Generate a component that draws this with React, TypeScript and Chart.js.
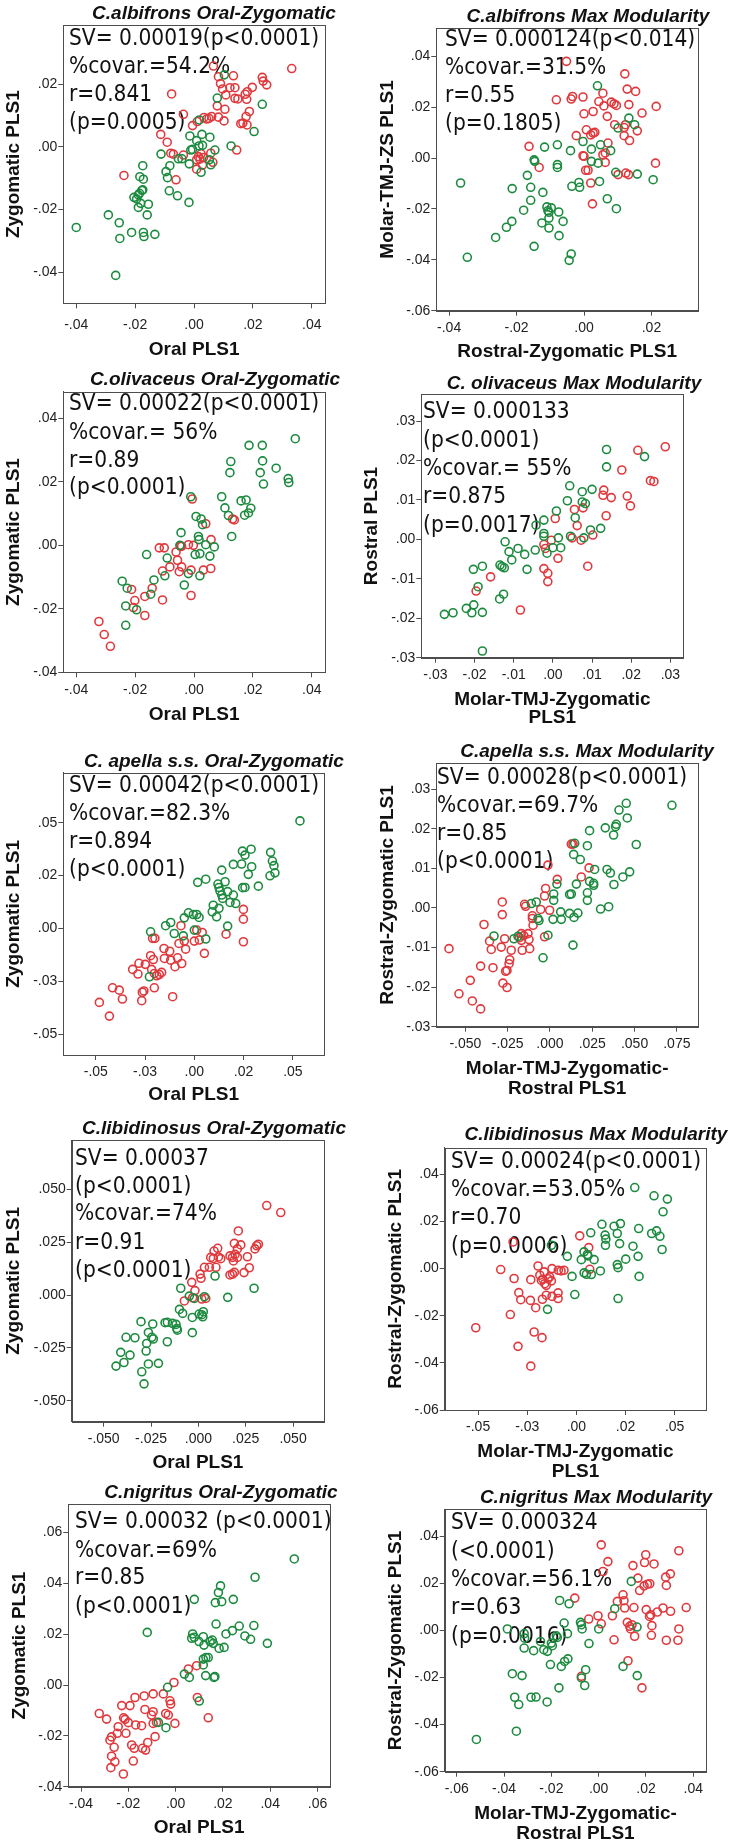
import React, { useEffect, useRef } from 'react';
import { Chart, registerables } from 'chart.js';

Chart.register(...registerables);

type Pt = [number, number];

// ---------- data: [x, y] scores ----------
const albifronsOZRed: Pt[] = [[-0.0238,-0.0091],[-0.0076,0.0169],[-0.0036,0.0104],[-0.0113,0.0040],[-0.0091,0.0015],[-0.0079,-0.0020],[-0.0070,-0.0023],[-0.0036,-0.0026],[-0.0061,-0.0105],[-0.0005,0.0068],[0.0011,0.0081],[0.0034,0.0094],[0.0043,0.0089],[0.0051,0.0091],[0.0060,0.0097],[0.0009,-0.0041],[0.0015,-0.0031],[0.0020,-0.0039],[0.0024,-0.0022],[0.0009,-0.0071],[0.0057,-0.0020],[0.0032,-0.0034],[0.0066,0.0258],[0.0083,0.0224],[0.0090,0.0202],[0.0097,0.0185],[0.0122,0.0189],[0.0134,0.0227],[0.0108,0.0166],[0.0079,0.0131],[0.0105,0.0120],[0.0083,0.0095],[0.0102,0.0083],[0.0139,0.0189],[0.0139,0.0155],[0.0149,0.0153],[0.0145,-0.0010],[0.0174,0.0168],[0.0181,0.0176],[0.0179,0.0152],[0.0198,0.0190],[0.0188,0.0113],[0.0177,0.0097],[0.0159,0.0074],[0.0166,0.0076],[0.0180,0.0070],[0.0232,0.0222],[0.0235,0.0210],[0.0247,0.0198],[0.0332,0.0250],[0.0064,-0.0049],[0.0029,-0.0058]];
const albifronsOZGreen: Pt[] = [[-0.0400,-0.0257],[-0.0266,-0.0410],[-0.0291,-0.0217],[-0.0254,-0.0242],[-0.0252,-0.0292],[-0.0212,-0.0273],[-0.0204,-0.0161],[-0.0195,-0.0166],[-0.0189,-0.0153],[-0.0185,-0.0148],[-0.0177,-0.0139],[-0.0174,-0.0137],[-0.0189,-0.0193],[-0.0181,-0.0180],[-0.0184,-0.0095],[-0.0172,-0.0103],[-0.0174,-0.0060],[-0.0172,-0.0273],[-0.0170,-0.0286],[-0.0155,-0.0183],[-0.0159,-0.0217],[-0.0133,-0.0279],[-0.0112,-0.0023],[-0.0095,-0.0079],[-0.0082,-0.0060],[-0.0090,-0.0098],[-0.0084,-0.0140],[-0.0056,-0.0156],[-0.0053,-0.0038],[-0.0017,-0.0177],[-0.0016,-0.0054],[-0.0014,0.0035],[-0.0011,-0.0010],[-0.0005,-0.0008],[0.0009,0.0020],[0.0017,0.0003],[0.0024,-0.0081],[0.0027,0.0040],[0.0029,0.0005],[0.0054,0.0031],[0.0057,-0.0057],[0.0052,-0.0041],[0.0071,-0.0010],[0.0079,0.0156],[0.0103,0.0230],[0.0126,0.0003],[0.0204,0.0049],[0.0232,0.0136],[0.0018,0.0086],[-0.0041,-0.0038]];

const albifronsMaxRed: Pt[] = [[-0.0052,0.0380],[-0.0082,0.0229],[-0.0038,0.0232],[-0.0034,0.0242],[-0.0003,0.0240],[-0.0163,0.0046],[-0.0133,-0.0037],[-0.0023,0.0088],[0.0000,0.0174],[0.0007,0.0111],[-0.0003,0.0009],[0.0000,0.0007],[0.0005,-0.0048],[0.0012,-0.0048],[0.0020,-0.0098],[0.0025,-0.0180],[0.0020,0.0091],[0.0027,0.0098],[0.0032,0.0101],[0.0027,0.0183],[0.0044,0.0222],[0.0056,0.0255],[0.0059,0.0205],[0.0056,0.0013],[0.0063,0.0020],[0.0063,-0.0017],[0.0069,0.0164],[0.0071,0.0059],[0.0081,0.0220],[0.0089,0.0213],[0.0096,0.0207],[0.0091,0.0131],[0.0101,-0.0065],[0.0119,0.0120],[0.0123,0.0131],[0.0119,0.0088],[0.0121,0.0331],[0.0128,0.0271],[0.0133,0.0210],[0.0135,0.0069],[0.0124,-0.0059],[0.0132,-0.0065],[0.0153,0.0262],[0.0158,0.0107],[0.0172,0.0177],[0.0214,0.0203],[0.0212,-0.0020]];
const albifronsMaxGreen: Pt[] = [[-0.0366,-0.0098],[-0.0346,-0.0390],[-0.0262,-0.0312],[-0.0230,-0.0272],[-0.0214,-0.0249],[-0.0213,-0.0120],[-0.0179,-0.0205],[-0.0168,-0.0068],[-0.0158,-0.0115],[-0.0158,-0.0166],[-0.0148,-0.0007],[-0.0146,-0.0013],[-0.0148,-0.0347],[-0.0122,-0.0135],[-0.0125,-0.0255],[-0.0117,0.0043],[-0.0110,-0.0192],[-0.0107,-0.0207],[-0.0097,-0.0196],[-0.0104,-0.0213],[-0.0104,-0.0236],[-0.0104,-0.0275],[-0.0079,0.0052],[-0.0079,-0.0026],[-0.0079,-0.0037],[-0.0075,-0.0212],[-0.0074,-0.0305],[-0.0062,-0.0249],[-0.0040,0.0029],[-0.0036,-0.0111],[-0.0038,-0.0377],[-0.0044,-0.0402],[-0.0015,-0.0096],[-0.0013,-0.0115],[-0.0003,0.0065],[0.0022,0.0035],[0.0022,-0.0013],[0.0040,0.0284],[0.0042,-0.0020],[0.0046,-0.0092],[0.0049,0.0052],[0.0069,-0.0160],[0.0079,0.0029],[0.0096,-0.0199],[0.0094,-0.0056],[0.0101,0.0118],[0.0133,0.0157],[0.0150,0.0131],[0.0158,-0.0063],[0.0205,-0.0085]];

const olivaceusOZRed: Pt[] = [[-0.0323,-0.0240],[-0.0305,-0.0281],[-0.0284,-0.0318],[-0.0212,-0.0139],[-0.0201,-0.0174],[-0.0206,-0.0196],[-0.0167,-0.0221],[-0.0167,-0.0161],[-0.0142,-0.0135],[-0.0107,-0.0172],[-0.0118,-0.0008],[-0.0101,-0.0008],[-0.0107,-0.0081],[-0.0082,-0.0068],[-0.0061,-0.0021],[-0.0056,-0.0047],[-0.0042,-0.0068],[-0.0042,-0.0003],[-0.0019,0.0002],[-0.0002,0.0000],[-0.0010,-0.0078],[-0.0010,-0.0158],[-0.0006,0.0146],[0.0040,0.0068],[0.0058,0.0018],[0.0032,-0.0078],[0.0057,-0.0073],[0.0131,0.0083],[0.0137,0.0080],[-0.0050,-0.0083],[-0.0046,-0.0003]];
const olivaceusOZGreen: Pt[] = [[0.0344,0.0336],[0.0187,0.0315],[0.0232,0.0315],[0.0233,0.0266],[0.0125,0.0264],[0.0122,0.0229],[0.0225,0.0229],[0.0279,0.0243],[0.0236,0.0193],[0.0320,0.0210],[0.0322,0.0198],[0.0094,0.0153],[0.0105,0.0118],[0.0117,0.0094],[0.0160,0.0140],[0.0177,0.0143],[0.0172,0.0095],[0.0185,0.0102],[0.0193,0.0117],[0.0128,0.0028],[-0.0011,0.0153],[0.0007,0.0091],[0.0024,0.0083],[0.0029,0.0065],[-0.0044,0.0040],[0.0015,0.0028],[0.0017,0.0018],[0.0004,-0.0029],[0.0020,-0.0026],[0.0040,0.0002],[0.0054,-0.0034],[0.0069,-0.0005],[0.0020,-0.0096],[-0.0019,-0.0089],[-0.0033,-0.0125],[-0.0048,0.0000],[-0.0091,-0.0040],[-0.0099,-0.0096],[-0.0161,-0.0029],[-0.0136,-0.0109],[-0.0147,-0.0154],[-0.0244,-0.0113],[-0.0227,-0.0135],[-0.0232,-0.0191],[-0.0195,-0.0203],[-0.0232,-0.0252]];

const olivaceusMaxRed: Pt[] = [[-0.0196,-0.0131],[-0.0159,-0.0095],[-0.0083,-0.0179],[-0.0023,-0.0074],[-0.0013,-0.0086],[-0.0013,-0.0107],[-0.0023,-0.0013],[-0.0019,-0.0023],[-0.0004,-0.0002],[0.0006,0.0053],[0.0013,-0.0048],[0.0049,0.0004],[0.0055,0.0076],[0.0062,0.0035],[0.0072,-0.0002],[0.0077,0.0080],[0.0089,-0.0068],[0.0102,0.0011],[0.0130,0.0125],[0.0128,0.0112],[0.0149,0.0106],[0.0136,0.0060],[0.0176,0.0176],[0.0190,0.0110],[0.0198,0.0085],[0.0217,0.0226],[0.0249,0.0149],[0.0258,0.0147],[0.0287,0.0235]];
const olivaceusMaxGreen: Pt[] = [[-0.0277,-0.0190],[-0.0255,-0.0186],[-0.0221,-0.0175],[-0.0207,-0.0186],[-0.0202,-0.0166],[-0.0203,-0.0076],[-0.0191,-0.0120],[-0.0180,-0.0068],[-0.0180,-0.0185],[-0.0180,-0.0283],[-0.0136,-0.0151],[-0.0135,-0.0065],[-0.0130,-0.0069],[-0.0124,-0.0072],[-0.0126,-0.0139],[-0.0122,-0.0006],[-0.0112,-0.0031],[-0.0105,-0.0052],[-0.0089,-0.0023],[-0.0072,-0.0038],[-0.0066,-0.0076],[-0.0045,-0.0027],[-0.0043,0.0036],[-0.0023,0.0049],[-0.0023,0.0015],[-0.0023,0.0008],[-0.0015,-0.0035],[0.0000,-0.0021],[0.0009,0.0072],[0.0014,0.0004],[0.0020,-0.0021],[0.0037,0.0098],[0.0043,0.0136],[0.0045,0.0008],[0.0057,0.0055],[0.0075,0.0121],[0.0075,0.0095],[0.0083,0.0091],[0.0079,0.0004],[0.0096,0.0024],[0.0100,0.0127],[0.0122,0.0028],[0.0137,0.0228],[0.0137,0.0184],[0.0234,0.0210]];

const apellaOZRed: Pt[] = [[-0.0482,-0.0350],[-0.0431,-0.0415],[-0.0415,-0.0281],[-0.0381,-0.0292],[-0.0365,-0.0334],[-0.0313,-0.0194],[-0.0286,-0.0216],[-0.0281,-0.0165],[-0.0249,-0.0170],[-0.0264,-0.0302],[-0.0256,-0.0296],[-0.0267,-0.0342],[-0.0222,-0.0129],[-0.0208,-0.0147],[-0.0217,-0.0194],[-0.0203,-0.0213],[-0.0191,-0.0224],[-0.0178,-0.0218],[-0.0166,-0.0208],[-0.0203,-0.0281],[-0.0212,-0.0047],[-0.0200,-0.0047],[-0.0154,-0.0095],[-0.0152,-0.0142],[-0.0125,-0.0108],[-0.0120,-0.0150],[-0.0110,-0.0323],[-0.0098,-0.0181],[-0.0085,-0.0139],[-0.0064,-0.0166],[-0.0078,-0.0071],[-0.0051,-0.0060],[-0.0044,-0.0098],[-0.0068,0.0013],[0.0000,-0.0060],[0.0025,-0.0055],[0.0040,-0.0019],[0.0012,-0.0008],[0.0051,-0.0118],[0.0161,-0.0027],[0.0249,0.0090],[0.0249,0.0044],[0.0249,-0.0063]];
const apellaOZGreen: Pt[] = [[0.0536,0.0509],[0.0244,0.0366],[0.0257,0.0347],[0.0288,0.0375],[0.0387,0.0360],[0.0396,0.0319],[0.0404,0.0297],[0.0409,0.0263],[0.0384,0.0249],[0.0198,0.0303],[0.0240,0.0305],[0.0291,0.0292],[0.0274,0.0256],[0.0139,0.0276],[0.0017,0.0218],[0.0058,0.0233],[0.0120,0.0210],[0.0125,0.0194],[0.0156,0.0221],[0.0130,0.0177],[0.0139,0.0158],[0.0169,0.0174],[0.0198,0.0158],[0.0245,0.0193],[0.0257,0.0194],[0.0325,0.0200],[0.0181,0.0123],[0.0210,0.0118],[0.0144,0.0142],[0.0096,0.0110],[0.0125,0.0095],[0.0091,0.0079],[0.0113,0.0055],[0.0169,0.0011],[-0.0030,0.0074],[-0.0051,0.0050],[-0.0005,0.0066],[0.0012,0.0066],[0.0024,0.0052],[-0.0120,0.0028],[-0.0146,0.0013],[-0.0102,-0.0024],[-0.0056,-0.0035],[0.0000,-0.0008],[0.0058,-0.0050],[-0.0222,-0.0016],[-0.0228,-0.0229]];

const apellaMaxRed: Pt[] = [[-0.0597,-0.0103],[-0.0538,-0.0217],[-0.0459,-0.0235],[-0.0471,-0.0183],[-0.0410,-0.0147],[-0.0410,-0.0255],[-0.0390,-0.0042],[-0.0357,-0.0084],[-0.0347,-0.0105],[-0.0337,-0.0151],[-0.0282,0.0015],[-0.0282,-0.0017],[-0.0268,-0.0078],[-0.0288,-0.0099],[-0.0278,-0.0190],[-0.0254,-0.0201],[-0.0254,-0.0158],[-0.0262,-0.0160],[-0.0238,-0.0131],[-0.0242,-0.0141],[-0.0229,-0.0107],[-0.0169,-0.0082],[-0.0169,-0.0065],[-0.0164,-0.0107],[-0.0150,0.0009],[-0.0144,0.0004],[-0.0130,-0.0065],[-0.0124,-0.0080],[-0.0120,-0.0103],[-0.0104,-0.0020],[-0.0100,-0.0044],[-0.0104,-0.0027],[-0.0055,-0.0004],[-0.0032,0.0030],[-0.0026,0.0049],[-0.0012,0.0108],[-0.0002,-0.0006],[-0.0032,-0.0073],[0.0043,0.0072],[0.0126,0.0161],[0.0136,0.0161],[0.0185,0.0078],[0.0231,0.0101],[-0.0180,-0.0075],[-0.0155,-0.0070]];
const apellaMaxGreen: Pt[] = [[0.0721,0.0259],[0.0451,0.0264],[0.0408,0.0247],[0.0457,0.0227],[0.0392,0.0211],[0.0388,0.0205],[0.0376,0.0184],[0.0327,0.0202],[0.0234,0.0195],[0.0221,0.0157],[0.0510,0.0160],[0.0146,0.0163],[0.0140,0.0135],[0.0179,0.0122],[0.0337,0.0097],[0.0357,0.0088],[0.0471,0.0091],[0.0431,0.0078],[0.0378,0.0059],[0.0264,0.0097],[0.0234,0.0067],[0.0258,0.0062],[0.0258,0.0057],[0.0156,0.0060],[0.0041,0.0060],[0.0221,0.0038],[0.0221,0.0019],[0.0116,0.0034],[0.0126,0.0035],[0.0063,-0.0010],[0.0018,-0.0029],[0.0067,-0.0029],[0.0116,-0.0014],[0.0142,-0.0024],[0.0165,-0.0013],[0.0299,-0.0003],[0.0347,0.0003],[0.0022,0.0019],[0.0022,0.0035],[-0.0012,-0.0069],[-0.0041,-0.0126],[0.0136,-0.0094],[-0.0110,0.0011],[-0.0081,0.0015],[-0.0071,-0.0027],[-0.0065,-0.0032],[-0.0189,-0.0072],[-0.0213,-0.0078],[-0.0331,-0.0071]];

const libidinosusOZRed: Pt[] = [[0.0361,0.0423],[0.0435,0.0390],[0.0211,0.0303],[0.0190,0.0244],[0.0224,0.0237],[0.0206,0.0218],[0.0194,0.0192],[0.0180,0.0178],[0.0206,0.0178],[0.0185,0.0161],[0.0167,0.0185],[0.0259,0.0181],[0.0299,0.0218],[0.0308,0.0233],[0.0317,0.0240],[0.0269,0.0129],[0.0241,0.0106],[0.0167,0.0095],[0.0180,0.0099],[0.0190,0.0107],[0.0102,0.0221],[0.0083,0.0208],[0.0065,0.0178],[0.0079,0.0173],[0.0106,0.0180],[0.0118,0.0172],[0.0093,0.0131],[0.0058,0.0131],[0.0032,0.0131],[0.0009,0.0099],[0.0014,0.0079],[-0.0035,0.0060],[-0.0018,0.0021],[-0.0030,-0.0013],[-0.0074,-0.0028],[0.0018,-0.0019],[0.0039,-0.0016]];
const libidinosusOZGreen: Pt[] = [[0.0088,0.0090],[0.0294,0.0032],[0.0155,-0.0011],[-0.0093,0.0032],[-0.0048,-0.0005],[-0.0021,-0.0016],[0.0032,-0.0008],[-0.0100,-0.0068],[-0.0083,-0.0087],[-0.0032,-0.0106],[0.0004,-0.0090],[0.0018,-0.0093],[0.0026,-0.0079],[0.0023,-0.0103],[-0.0032,-0.0178],[-0.0118,-0.0139],[-0.0114,-0.0158],[-0.0111,-0.0166],[-0.0137,-0.0134],[-0.0164,-0.0129],[-0.0176,-0.0131],[-0.0164,-0.0221],[-0.0241,-0.0137],[-0.0303,-0.0126],[-0.0264,-0.0177],[-0.0246,-0.0200],[-0.0238,-0.0208],[-0.0273,-0.0229],[-0.0276,-0.0265],[-0.0382,-0.0200],[-0.0335,-0.0202],[-0.0410,-0.0271],[-0.0361,-0.0284],[-0.0393,-0.0319],[-0.0435,-0.0336],[-0.0264,-0.0326],[-0.0211,-0.0323],[-0.0299,-0.0363],[-0.0287,-0.0420]];

const libidinosusMaxRed: Pt[] = [[-0.0322,0.0113],[0.0017,0.0139],[0.0063,0.0089],[0.0068,-0.0003],[-0.0385,-0.0004],[-0.0317,-0.0042],[-0.0232,-0.0047],[-0.0195,0.0011],[-0.0186,-0.0028],[-0.0178,-0.0050],[-0.0164,-0.0014],[-0.0161,-0.0064],[-0.0153,-0.0071],[-0.0144,-0.0043],[-0.0136,-0.0035],[-0.0127,-0.0052],[-0.0124,0.0000],[-0.0092,-0.0007],[-0.0078,-0.0010],[-0.0063,-0.0007],[-0.0293,-0.0102],[-0.0283,-0.0132],[-0.0234,-0.0135],[-0.0207,-0.0166],[-0.0173,-0.0130],[-0.0153,-0.0113],[-0.0124,-0.0118],[-0.0093,-0.0103],[-0.0093,-0.0127],[-0.0336,-0.0195],[-0.0512,-0.0251],[-0.0215,-0.0269],[-0.0175,-0.0293],[-0.0297,-0.0330],[-0.0232,-0.0414],[-0.0170,-0.0045]];
const libidinosusMaxGreen: Pt[] = [[0.0297,0.0344],[0.0395,0.0309],[0.0463,0.0295],[0.0441,0.0241],[0.0130,0.0188],[0.0192,0.0180],[0.0224,0.0191],[0.0317,0.0170],[0.0383,0.0149],[0.0408,0.0160],[0.0425,0.0137],[0.0073,0.0152],[0.0146,0.0142],[0.0150,0.0125],[0.0148,0.0099],[0.0208,0.0149],[0.0220,0.0106],[0.0288,0.0095],[0.0436,0.0081],[-0.0127,0.0099],[-0.0046,0.0052],[0.0039,0.0071],[0.0056,0.0060],[0.0059,0.0054],[0.0025,0.0038],[0.0090,0.0038],[0.0251,0.0040],[0.0314,0.0052],[0.0208,0.0017],[0.0212,0.0004],[0.0122,-0.0010],[0.0039,-0.0018],[0.0051,-0.0024],[0.0076,-0.0025],[-0.0022,-0.0033],[0.0319,-0.0033],[-0.0008,-0.0110],[0.0212,-0.0127],[-0.0147,-0.0173]];

const nigritusOZRed: Pt[] = [[0.0054,0.0063],[0.0089,0.0076],[-0.0007,0.0010],[-0.0052,-0.0035],[-0.0095,-0.0035],[-0.0133,-0.0043],[-0.0172,-0.0049],[-0.0193,-0.0081],[-0.0228,-0.0081],[-0.0024,-0.0062],[-0.0021,-0.0075],[-0.0042,-0.0112],[-0.0031,-0.0118],[-0.0003,-0.0151],[-0.0130,-0.0096],[-0.0095,-0.0105],[-0.0102,-0.0118],[-0.0095,-0.0151],[-0.0081,-0.0147],[-0.0323,-0.0112],[-0.0292,-0.0134],[-0.0220,-0.0129],[-0.0214,-0.0135],[-0.0169,-0.0157],[-0.0144,-0.0160],[-0.0200,-0.0148],[-0.0243,-0.0164],[-0.0247,-0.0190],[-0.0210,-0.0190],[-0.0271,-0.0204],[-0.0278,-0.0217],[-0.0260,-0.0245],[-0.0271,-0.0280],[-0.0257,-0.0302],[-0.0274,-0.0325],[-0.0186,-0.0236],[-0.0175,-0.0249],[-0.0140,-0.0249],[-0.0127,-0.0256],[-0.0118,-0.0226],[-0.0087,-0.0203],[-0.0179,-0.0299],[-0.0221,-0.0350],[0.0092,-0.0049],[0.0138,-0.0129]];
const nigritusOZGreen: Pt[] = [[0.0502,0.0496],[0.0336,0.0424],[0.0190,0.0390],[0.0181,0.0364],[0.0168,0.0324],[0.0195,0.0328],[0.0244,0.0337],[0.0079,0.0337],[-0.0120,0.0207],[0.0171,0.0240],[0.0269,0.0232],[0.0331,0.0234],[0.0213,0.0201],[0.0240,0.0214],[0.0293,0.0193],[0.0317,0.0180],[0.0388,0.0164],[0.0072,0.0201],[0.0068,0.0184],[0.0079,0.0188],[0.0099,0.0171],[0.0117,0.0190],[0.0120,0.0157],[0.0146,0.0171],[0.0155,0.0177],[0.0159,0.0164],[0.0184,0.0144],[0.0205,0.0148],[0.0117,0.0102],[0.0128,0.0108],[0.0138,0.0108],[0.0117,0.0079],[0.0127,0.0037],[0.0162,0.0030],[0.0166,0.0033],[0.0037,0.0043],[0.0058,0.0030],[-0.0034,-0.0009],[0.0100,-0.0063],[-0.0041,-0.0168],[-0.0073,-0.0147]];

const nigritusMaxRed: Pt[] = [[0.0011,0.0363],[0.0039,0.0292],[0.0018,0.0250],[-0.0101,0.0137],[-0.0042,0.0048],[-0.0003,0.0062],[0.0011,0.0028],[0.0058,0.0062],[0.0065,-0.0040],[0.0079,0.0123],[0.0103,0.0151],[0.0107,0.0126],[0.0110,0.0095],[0.0121,0.0034],[0.0131,0.0017],[0.0135,0.0006],[0.0141,0.0024],[0.0152,-0.0025],[0.0149,0.0097],[0.0145,0.0275],[0.0166,0.0222],[0.0173,0.0169],[0.0192,0.0189],[0.0206,0.0196],[0.0216,0.0198],[0.0199,0.0321],[0.0194,0.0288],[0.0234,0.0282],[0.0201,0.0088],[0.0215,0.0059],[0.0220,0.0066],[0.0225,0.0020],[0.0223,-0.0021],[0.0248,0.0078],[0.0272,0.0095],[0.0283,0.0226],[0.0286,0.0191],[0.0303,0.0240],[0.0304,0.0081],[0.0286,-0.0042],[0.0339,0.0338],[0.0339,0.0006],[0.0335,-0.0042],[0.0370,0.0097],[0.0124,-0.0129],[0.0183,-0.0244],[-0.0073,-0.0195]];
const nigritusMaxGreen: Pt[] = [[0.0138,0.0208],[-0.0165,0.0127],[-0.0125,0.0113],[0.0068,0.0092],[-0.0386,0.0006],[-0.0315,-0.0014],[-0.0313,-0.0033],[-0.0315,-0.0075],[-0.0275,-0.0086],[-0.0246,-0.0047],[-0.0232,-0.0082],[-0.0217,-0.0089],[-0.0196,-0.0065],[-0.0200,-0.0054],[-0.0175,-0.0030],[-0.0179,-0.0023],[-0.0146,0.0031],[-0.0132,-0.0014],[-0.0130,-0.0121],[-0.0144,-0.0132],[-0.0158,-0.0153],[-0.0204,-0.0145],[-0.0077,0.0034],[-0.0073,0.0024],[-0.0070,0.0006],[-0.0041,-0.0056],[0.0000,0.0006],[-0.0365,-0.0184],[-0.0324,-0.0192],[-0.0355,-0.0284],[-0.0338,-0.0315],[-0.0286,-0.0284],[-0.0265,-0.0283],[-0.0218,-0.0304],[-0.0168,-0.0244],[-0.0348,-0.0428],[-0.0517,-0.0463],[-0.0073,-0.0202],[-0.0059,-0.0234],[-0.0055,-0.0167],[0.0103,-0.0153],[0.0163,-0.0192],[0.0162,0.0014]];

// ---------- ticks ----------
const ticks04: number[] = [-0.04, -0.02, 0, 0.02, 0.04];
const labels04: string[] = ['-.04', '-.02', '.00', '.02', '.04'];
const ticks02y: number[] = [-0.04, -0.02, 0, 0.02];
const labels02y: string[] = ['-.04', '-.02', '.00', '.02'];
const ticks02x: number[] = [-0.04, -0.02, 0, 0.02];
const ticks06to04: number[] = [-0.06, -0.04, -0.02, 0, 0.02, 0.04];
const labels06to04: string[] = ['-.06', '-.04', '-.02', '.00', '.02', '.04'];
const ticks03: number[] = [-0.03, -0.02, -0.01, 0, 0.01, 0.02, 0.03];
const labels03: string[] = ['-.03', '-.02', '-.01', '.00', '.01', '.02', '.03'];
const ticks05q: number[] = [-0.05, -0.025, 0, 0.025, 0.05];
const labels05q2: string[] = ['-.05', '-.03', '.00', '.02', '.05'];
const labels05q3: string[] = ['-.050', '-.025', '.000', '.025', '.050'];
const ticks075: number[] = [-0.05, -0.025, 0, 0.025, 0.05, 0.075];
const labels075: string[] = ['-.050', '-.025', '.000', '.025', '.050', '.075'];
const ticks04to06: number[] = [-0.04, -0.02, 0, 0.02, 0.04, 0.06];
const labels04to06: string[] = ['-.04', '-.02', '.00', '.02', '.04', '.06'];

const RED = '#e0393d';
const GREEN = '#1d8b3f';

interface PanelData {
  title: string; xTitle: string[]; yTitle: string; note: string[];
  red: Pt[]; green: Pt[];
  xMin: number; xMax: number; xTicks: number[]; xLabels: string[];
  yMin: number; yMax: number; yTicks: number[]; yLabels: string[];
}

const PANELS: PanelData[] = [
  { title: 'C.albifrons Oral-Zygomatic', xTitle: ['Oral PLS1'], yTitle: 'Zygomatic PLS1',
    note: ['SV= 0.00019(p<0.0001)', '%covar.=54.2%', 'r=0.841', '(p=0.0005)'],
    red: albifronsOZRed, green: albifronsOZGreen,
    xMin: -0.0444, xMax: 0.0445, xTicks: ticks04, xLabels: labels04,
    yMin: -0.0499, yMax: 0.0389, yTicks: ticks02y, yLabels: labels02y },
  { title: 'C.albifrons Max Modularity', xTitle: ['Rostral-Zygomatic PLS1'], yTitle: 'Molar-TMJ-ZS PLS1',
    note: ['SV= 0.000124(p<0.014)', '%covar.=31.5%', 'r=0.55', '(p=0.1805)'],
    red: albifronsMaxRed, green: albifronsMaxGreen,
    xMin: -0.0438, xMax: 0.0338, xTicks: ticks02x, xLabels: labels02y,
    yMin: -0.06, yMax: 0.051, yTicks: ticks06to04, yLabels: labels06to04 },
  { title: 'C.olivaceus Oral-Zygomatic', xTitle: ['Oral PLS1'], yTitle: 'Zygomatic PLS1',
    note: ['SV= 0.00022(p<0.0001)', '%covar.= 56%', 'r=0.89', '(p<0.0001)'],
    red: olivaceusOZRed, green: olivaceusOZGreen,
    xMin: -0.0444, xMax: 0.0445, xTicks: ticks04, xLabels: labels04,
    yMin: -0.04, yMax: 0.0484, yTicks: ticks04, yLabels: labels04 },
  { title: 'C. olivaceus Max Modularity', xTitle: ['Molar-TMJ-Zygomatic', 'PLS1'], yTitle: 'Rostral PLS1',
    note: ['SV= 0.000133', '(p<0.0001)', '%covar.= 55%', 'r=0.875', '(p=0.0017)'],
    red: olivaceusMaxRed, green: olivaceusMaxGreen,
    xMin: -0.0336, xMax: 0.0333, xTicks: ticks03, xLabels: labels03,
    yMin: -0.03, yMax: 0.0368, yTicks: ticks03, yLabels: labels03 },
  { title: 'C. apella s.s. Oral-Zygomatic', xTitle: ['Oral PLS1'], yTitle: 'Zygomatic PLS1',
    note: ['SV= 0.00042(p<0.0001)', '%covar.=82.3%', 'r=0.894', '(p<0.0001)'],
    red: apellaOZRed, green: apellaOZGreen,
    xMin: -0.0665, xMax: 0.0658, xTicks: ticks05q, xLabels: labels05q2,
    yMin: -0.0599, yMax: 0.0737, yTicks: ticks05q, yLabels: labels05q2 },
  { title: 'C.apella s.s. Max Modularity', xTitle: ['Molar-TMJ-Zygomatic-', 'Rostral PLS1'], yTitle: 'Rostral-Zygomatic PLS1',
    note: ['SV= 0.00028(p<0.0001)', '%covar.=69.7%', 'r=0.85', '(p<0.0001)'],
    red: apellaMaxRed, green: apellaMaxGreen,
    xMin: -0.0672, xMax: 0.0875, xTicks: ticks075, xLabels: labels075,
    yMin: -0.03, yMax: 0.0365, yTicks: ticks03, yLabels: labels03 },
  { title: 'C.libidinosus Oral-Zygomatic', xTitle: ['Oral PLS1'], yTitle: 'Zygomatic PLS1',
    note: ['SV= 0.00037', '(p<0.0001)', '%covar.=74%', 'r=0.91', '(p<0.0001)'],
    red: libidinosusOZRed, green: libidinosusOZGreen,
    xMin: -0.0669, xMax: 0.0665, xTicks: ticks05q, xLabels: labels05q3,
    yMin: -0.0599, yMax: 0.0733, yTicks: ticks05q, yLabels: labels05q3 },
  { title: 'C.libidinosus Max Modularity', xTitle: ['Molar-TMJ-Zygomatic', 'PLS1'], yTitle: 'Rostral-Zygomatic PLS1',
    note: ['SV= 0.00024(p<0.0001)', '%covar.=53.05%', 'r=0.70', '(p=0.0006)'],
    red: libidinosusMaxRed, green: libidinosusMaxGreen,
    xMin: -0.067, xMax: 0.0661, xTicks: ticks05q, xLabels: labels05q2,
    yMin: -0.06, yMax: 0.0513, yTicks: ticks06to04, yLabels: labels06to04 },
  { title: 'C.nigritus Oral-Zygomatic', xTitle: ['Oral PLS1'], yTitle: 'Zygomatic PLS1',
    note: ['SV= 0.00032 (p<0.0001)', '%covar.=69%', 'r=0.85', '(p<0.0001)'],
    red: nigritusOZRed, green: nigritusOZGreen,
    xMin: -0.0454, xMax: 0.0653, xTicks: ticks04to06, xLabels: labels04to06,
    yMin: -0.04, yMax: 0.0711, yTicks: ticks04to06, yLabels: labels04to06 },
  { title: 'C.nigritus Max Modularity', xTitle: ['Molar-TMJ-Zygomatic-', 'Rostral PLS1'], yTitle: 'Rostral-Zygomatic PLS1',
    note: ['SV= 0.000324', '(<0.0001)', '%covar.=56.1%', 'r=0.63', '(p=0.0016)'],
    red: nigritusMaxRed, green: nigritusMaxGreen,
    xMin: -0.0651, xMax: 0.0455, xTicks: ticks06to04, xLabels: labels06to04,
    yMin: -0.06, yMax: 0.0514, yTicks: ticks06to04, yLabels: labels06to04 },
];

// ---------- layout (page pixels) ----------
interface PanelLayout {
  col: number; box: [number, number, number, number]; titleAt: [number, number];
  xTitleY: number[]; yTitleX: number; noteX: number; noteY: number[]; xPad: number;
}
const LAYOUT: PanelLayout[] = [
  { col: 0, box: [63.3, 25, 325, 303.3], titleAt: [214, 14], xTitleY: [350], yTitleX: 14, noteX: 69, noteY: [39, 67, 95, 123], xPad: 8 },
  { col: 1, box: [436.3, 28.3, 698, 310.7], titleAt: [588, 17], xTitleY: [352], yTitleX: 388, noteX: 445, noteY: [40, 68, 96, 124], xPad: 4 },
  { col: 0, box: [63.3, 391.7, 325, 672.3], titleAt: [215, 380], xTitleY: [715], yTitleX: 14, noteX: 69, noteY: [404, 433, 461, 488], xPad: 4 },
  { col: 1, box: [421.3, 394.3, 683.3, 657.7], titleAt: [574, 384], xTitleY: [700, 718], yTitleX: 372, noteX: 423, noteY: [412, 441, 469, 497, 526], xPad: 4 },
  { col: 0, box: [63.3, 772.7, 324, 1055], titleAt: [214, 762], xTitleY: [1095], yTitleX: 14, noteX: 69, noteY: [786, 814, 842, 870], xPad: 4 },
  { col: 1, box: [436.3, 763.3, 698, 1026.7], titleAt: [587, 752], xTitleY: [1069, 1089], yTitleX: 388, noteX: 437, noteY: [778, 806, 834, 862], xPad: 4 },
  { col: 0, box: [71.7, 1140, 324.3, 1421.7], titleAt: [214, 1129], xTitleY: [1463], yTitleX: 14, noteX: 75, noteY: [1159, 1187, 1214, 1243, 1271], xPad: 4 },
  { col: 1, box: [444.7, 1147.7, 706.3, 1410], titleAt: [596, 1135], xTitleY: [1452, 1472], yTitleX: 396, noteX: 451, noteY: [1162, 1190, 1218, 1247], xPad: 4 },
  { col: 0, box: [68.3, 1504.3, 330, 1786.7], titleAt: [221, 1493], xTitleY: [1828], yTitleX: 20, noteX: 75, noteY: [1522, 1551, 1578, 1607], xPad: 4 },
  { col: 1, box: [444.7, 1509.3, 706.3, 1771.7], titleAt: [596, 1498], xTitleY: [1814, 1834], yTitleX: 396, noteX: 451, noteY: [1523, 1552, 1580, 1608, 1637], xPad: 4 },
];

const AXIS_COLOR = '#4d4d4d';
const TICK_FONT = { family: '"Liberation Sans", Arial, sans-serif', size: 14 };

function makeScale(min: number, max: number, values: number[], labels: string[], isX: boolean, size: number, pad: number) {
  return {
    type: 'linear' as const,
    min, max,
    afterBuildTicks: (axis: any) => { axis.ticks = values.map((v) => ({ value: v })); },
    afterFit: (axis: any) => { if (isX) axis.height = size; else axis.width = size; },
    ticks: {
      autoSkip: false, maxRotation: 0, minRotation: 0, padding: pad,
      font: TICK_FONT, color: '#222',
      callback: (_v: any, i: number) => labels[i] ?? '',
    },
    grid: { display: true, drawOnChartArea: false, drawTicks: true, tickLength: 5, color: AXIS_COLOR, lineWidth: 1 },
    border: { display: true, color: AXIS_COLOR, width: 1 },
  };
}

function PanelChart({ p, l }: { p: PanelData; l: PanelLayout }) {
  const ref = useRef<HTMLCanvasElement | null>(null);
  const [L, T, R, B] = l.box;
  const cLeft = l.col === 0 ? 0 : 360;
  const cWidth = l.col === 0 ? 364 : 376;
  const cTop = Math.round(T) - 50;
  const cHeight = Math.round(B - T) + 135;

  useEffect(() => {
    if (!ref.current) return;
    const YW = 40, XH = 26;
    const decor = {
      id: 'decor',
      beforeDatasetsDraw(chart: any) {
        const ctx = chart.ctx as CanvasRenderingContext2D;
        const a = chart.chartArea;
        ctx.save();
        ctx.strokeStyle = AXIS_COLOR;
        ctx.lineWidth = 1;
        const x0 = Math.round(a.left) + 0.5, y0 = Math.round(a.top) + 0.5;
        ctx.strokeRect(x0, y0, Math.round(a.right) - Math.round(a.left), Math.round(a.bottom) - Math.round(a.top));
        ctx.fillStyle = '#111';
        ctx.textBaseline = 'middle';
        ctx.textAlign = 'left';
        ctx.font = '23px "DejaVu Sans"';
        p.note.forEach((line, i) => {
          ctx.save();
          ctx.translate(l.noteX - cLeft, l.noteY[i] - cTop);
          ctx.scale(0.88, 1);
          ctx.fillText(line, 0, 0);
          ctx.restore();
        });
        ctx.textAlign = 'center';
        ctx.font = 'italic bold 19px "Liberation Sans"';
        ctx.fillText(p.title, l.titleAt[0] - cLeft, l.titleAt[1] - cTop);
        ctx.font = 'bold 19px "Liberation Sans"';
        p.xTitle.forEach((t, i) => ctx.fillText(t, (L + R) / 2 - cLeft, l.xTitleY[i] - cTop));
        ctx.translate(l.yTitleX - cLeft, (T + B) / 2 - cTop);
        ctx.rotate(-Math.PI / 2);
        ctx.fillText(p.yTitle, 0, 0);
        ctx.restore();
      },
    };
    const ds = (pts: Pt[], color: string) => ({
      data: pts.map(([x, y]) => ({ x, y })),
      borderColor: color,
      backgroundColor: 'rgba(0,0,0,0)',
      pointBorderColor: color,
      pointBackgroundColor: 'rgba(0,0,0,0)',
      pointRadius: 4,
      pointBorderWidth: 1.6,
      pointStyle: 'circle' as const,
    });
    const chart = new Chart(ref.current, {
      type: 'scatter',
      data: { datasets: [ds(p.green, GREEN), ds(p.red, RED)] },
      options: {
        responsive: false,
        animation: false,
        devicePixelRatio: 1,
        events: [],
        layout: {
          padding: {
            left: L - cLeft - YW,
            top: T - cTop,
            right: cLeft + cWidth - R,
            bottom: cTop + cHeight - B - XH,
          },
        },
        plugins: { legend: { display: false }, tooltip: { enabled: false }, title: { display: false } },
        scales: {
          x: makeScale(p.xMin, p.xMax, p.xTicks, p.xLabels, true, XH, l.xPad),
          y: makeScale(p.yMin, p.yMax, p.yTicks, p.yLabels, false, YW, 1),
        },
      } as any,
      plugins: [decor],
    });
    return () => chart.destroy();
  }, []);

  return (
    <canvas
      ref={ref}
      width={cWidth}
      height={cHeight}
      style={{ position: 'absolute', left: cLeft, top: cTop, width: cWidth, height: cHeight }}
    />
  );
}

export default function App() {
  return (
    <div style={{ position: 'absolute', left: 0, top: 0, width: 736, height: 1847, overflow: 'hidden', background: '#fff' }}>
      {PANELS.map((p, i) => (
        <PanelChart key={i} p={p} l={LAYOUT[i]} />
      ))}
    </div>
  );
}
